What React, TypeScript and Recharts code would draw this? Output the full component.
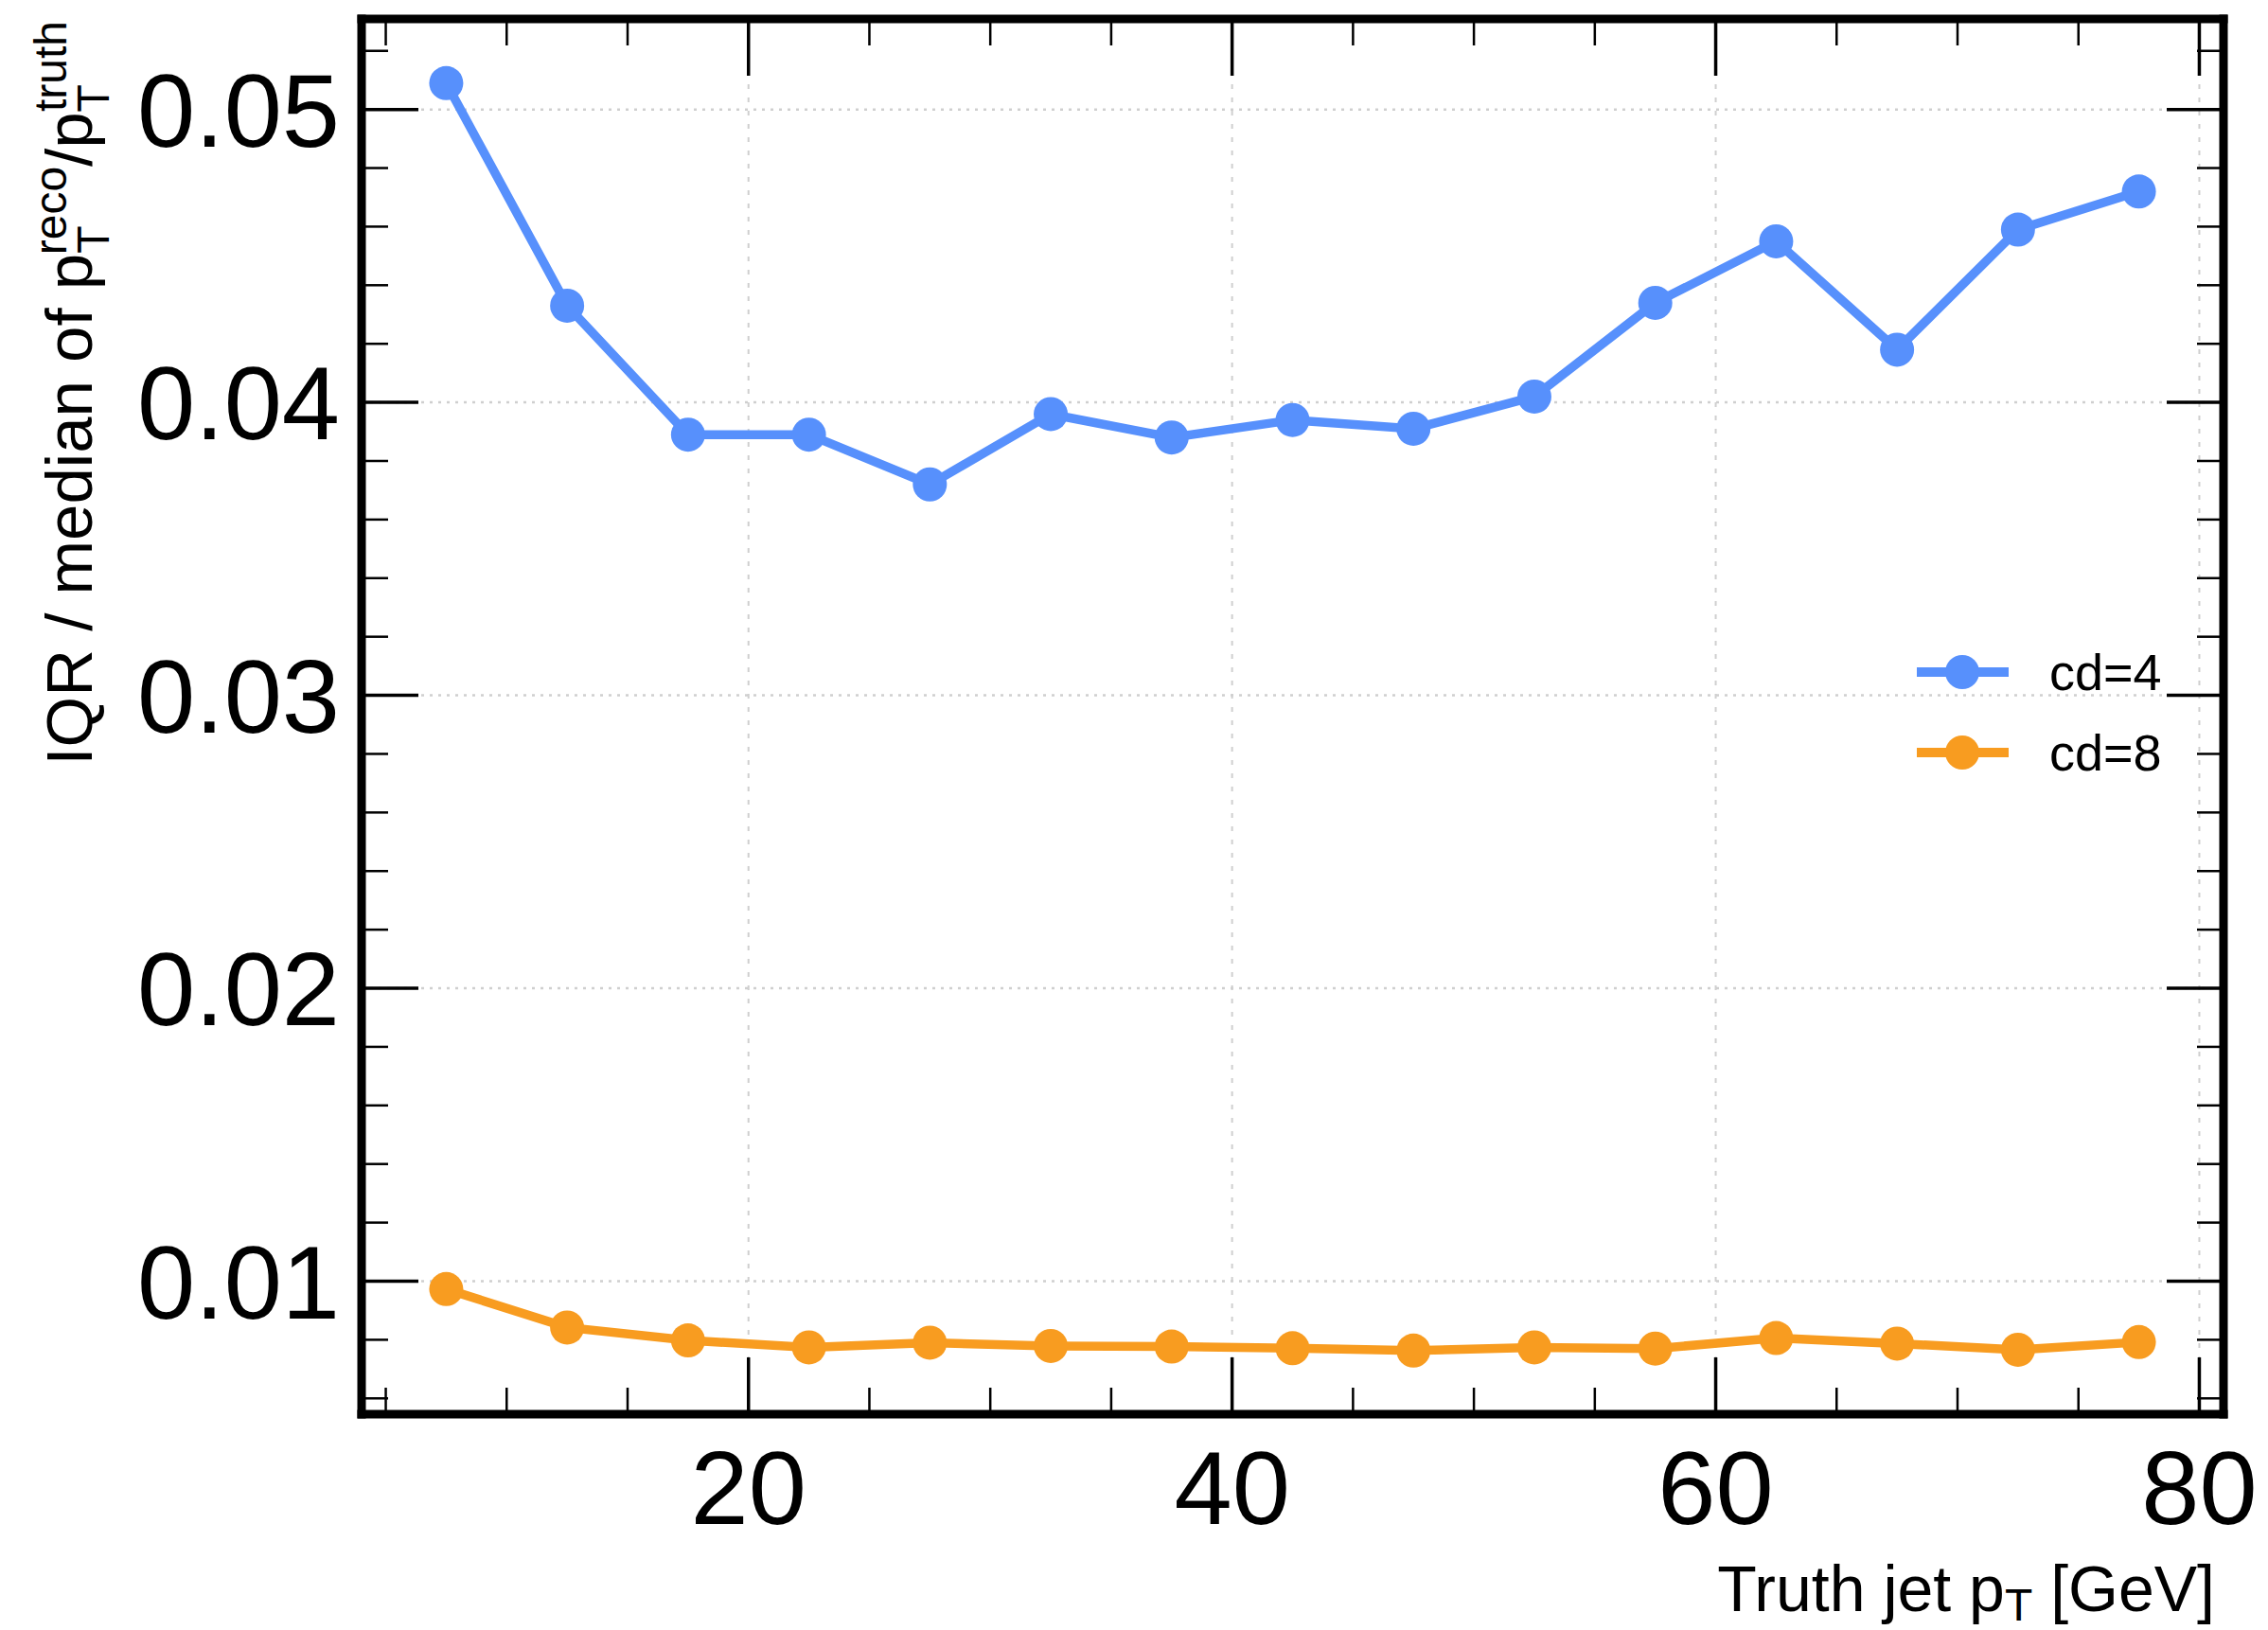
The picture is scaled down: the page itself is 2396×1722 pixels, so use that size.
import React from 'react';
import { LineChart, Line, XAxis, YAxis, ReferenceLine, Legend } from 'recharts';

// ---- data ----
const ptBins = [7.5, 12.5, 17.5, 22.5, 27.5, 32.5, 37.5, 42.5, 47.5, 52.5, 57.5, 62.5, 67.5, 72.5, 77.5];
const iqrCd4 = [0.0509, 0.0433, 0.0389, 0.0389, 0.0372, 0.0396, 0.0388, 0.0394, 0.0391, 0.0402, 0.0434, 0.0455, 0.0418, 0.0459, 0.0472];
const iqrCd8 = [0.00973, 0.00842, 0.00798, 0.00774, 0.0079, 0.00779, 0.00777, 0.00771, 0.00763, 0.00774, 0.0077, 0.00806, 0.00787, 0.00766, 0.00792];
const seriesNames = ['cd=4', 'cd=8'];
const seriesColors = ['#5790fc', '#f89c20'];

const xTicks = [5, 10, 15, 20, 25, 30, 35, 40, 45, 50, 55, 60, 65, 70, 75, 80];
const xMajorTicks = [20, 40, 60, 80];
const yTicks = [0.006, 0.008, 0.01, 0.012, 0.014, 0.016, 0.018, 0.02, 0.022, 0.024, 0.026, 0.028, 0.03, 0.032, 0.034, 0.036, 0.038, 0.04, 0.042, 0.044, 0.046, 0.048, 0.05, 0.052];
const yMajorTicks = [0.01, 0.02, 0.03, 0.04, 0.05];
const yMajorLabels = ['0.01', '0.02', '0.03', '0.04', '0.05'];
const xDomain = [4, 81];
const yDomain = [0.00546, 0.05309];

const data = ptBins.map((pt, i) => ({ pt, cd4: iqrCd4[i], cd8: iqrCd8[i] }));

// ---- layout / style ----
const W = 2396;
const H = 1722;
const PLOT_LEFT = 382;
const PLOT_RIGHT = 2349;
const PLOT_TOP = 20;
const PLOT_BOTTOM = 1494;
const FONT = '"Liberation Sans", Arial, Helvetica, sans-serif';
const MAJOR_LEN = 60;
const MINOR_LEN = 28;
const TICK_FONT = 110;

const isMajorX = (v: number) => xMajorTicks.some((m) => Math.abs(m - v) < 1e-9);
const majorYIndex = (v: number) => yMajorTicks.findIndex((m) => Math.abs(m - v) < 1e-9);

const BottomTick = (props: any) => {
  const { x, y, payload } = props;
  const major = isMajorX(payload.value);
  return (
    <g>
      <line x1={x} x2={x} y1={y} y2={y - (major ? MAJOR_LEN : MINOR_LEN)} stroke="#000" strokeWidth={major ? 3.5 : 2.5} />
      {major && (
        <text x={x} y={y + 116} textAnchor="middle" fontSize={TICK_FONT} fontFamily={FONT} fill="#000">
          {payload.value}
        </text>
      )}
    </g>
  );
};

const TopTick = (props: any) => {
  const { x, y, payload } = props;
  const major = isMajorX(payload.value);
  return <line x1={x} x2={x} y1={y} y2={y + (major ? MAJOR_LEN : MINOR_LEN)} stroke="#000" strokeWidth={major ? 3.5 : 2.5} />;
};

const LeftTick = (props: any) => {
  const { x, y, payload } = props;
  const idx = majorYIndex(payload.value);
  const major = idx >= 0;
  return (
    <g>
      <line x1={x} x2={x + (major ? MAJOR_LEN : MINOR_LEN)} y1={y} y2={y} stroke="#000" strokeWidth={major ? 3.5 : 2.5} />
      {major && (
        <text x={x - 23} y={y + 39} textAnchor="end" fontSize={TICK_FONT} fontFamily={FONT} fill="#000">
          {yMajorLabels[idx]}
        </text>
      )}
    </g>
  );
};

const RightTick = (props: any) => {
  const { x, y, payload } = props;
  const major = majorYIndex(payload.value) >= 0;
  return <line x1={x} x2={x - (major ? MAJOR_LEN : MINOR_LEN)} y1={y} y2={y} stroke="#000" strokeWidth={major ? 3.5 : 2.5} />;
};

const YTitle = () => (
  <text transform="translate(97,22) rotate(-90)" textAnchor="end" fontSize={69} fontFamily={FONT} fill="#000">
    IQR / median of p
    <tspan fontSize={48} dy={18}>T</tspan>
    <tspan fontSize={48} dx={-29} dy={-45}>reco</tspan>
    <tspan fontSize={69} dy={27}>/p</tspan>
    <tspan fontSize={48} dy={18}>T</tspan>
    <tspan fontSize={48} dx={-29} dy={-45}>truth</tspan>
  </text>
);

const XTitle = () => (
  <text x={2340} y={1702} textAnchor="end" fontSize={68} fontFamily={FONT} fill="#000">
    Truth jet p
    <tspan fontSize={48} dy={10}>T</tspan>
    <tspan fontSize={68} dy={-10}>{' [GeV]'}</tspan>
  </text>
);

const renderLegend = (props: any) => {
  const payload = props.payload || [];
  return (
    <svg width={340} height={180} style={{ display: 'block' }}>
      {payload.map((e: any, i: number) => {
        const cy = 40 + i * 85;
        return (
          <g key={i}>
            <line x1={15} x2={112} y1={cy} y2={cy} stroke={e.color} strokeWidth={10} />
            <circle cx={63} cy={cy} r={18} fill={e.color} />
            <text x={155} y={cy + 19} fontSize={54} fontFamily={FONT} fill="#000">
              {e.value}
            </text>
          </g>
        );
      })}
    </svg>
  );
};

const axisLineStyle = { stroke: '#000', strokeWidth: 9, strokeLinecap: 'square' as const };

export default function App() {
  return (
    <div style={{ position: 'absolute', left: 0, top: 0, width: W, height: H, background: '#fff' }}>
      <LineChart width={W} height={H} data={data} margin={{ top: 0, right: 0, bottom: 0, left: 0 }}>
        <XAxis
          xAxisId={0}
          dataKey="pt"
          type="number"
          domain={xDomain}
          allowDataOverflow
          ticks={xTicks}
          interval={0}
          height={H - PLOT_BOTTOM}
          tickSize={0}
          tickMargin={0}
          tickLine={false}
          axisLine={axisLineStyle}
          tick={<BottomTick />}
          label={<XTitle />}
        />
        <XAxis
          xAxisId="top"
          orientation="top"
          dataKey="pt"
          type="number"
          domain={xDomain}
          allowDataOverflow
          ticks={xTicks}
          interval={0}
          height={PLOT_TOP}
          tickSize={0}
          tickMargin={0}
          tickLine={false}
          axisLine={axisLineStyle}
          tick={<TopTick />}
        />
        <YAxis
          yAxisId={0}
          type="number"
          domain={yDomain}
          allowDataOverflow
          ticks={yTicks}
          interval={0}
          width={PLOT_LEFT}
          tickSize={0}
          tickMargin={0}
          tickLine={false}
          axisLine={axisLineStyle}
          tick={<LeftTick />}
          label={<YTitle />}
        />
        <YAxis
          yAxisId="right"
          orientation="right"
          type="number"
          domain={yDomain}
          allowDataOverflow
          ticks={yTicks}
          interval={0}
          width={W - PLOT_RIGHT}
          tickSize={0}
          tickMargin={0}
          tickLine={false}
          axisLine={axisLineStyle}
          tick={<RightTick />}
        />
        {xMajorTicks.map((v) => (
          <ReferenceLine key={'gx' + v} x={v} xAxisId={0} yAxisId={0} stroke="#cfcfcf" strokeWidth={2} strokeDasharray="5 9" />
        ))}
        {yMajorTicks.map((v) => (
          <ReferenceLine key={'gy' + v} y={v} xAxisId={0} yAxisId={0} stroke="#cfcfcf" strokeWidth={2.5} strokeDasharray="3 6" />
        ))}
        <Legend
          verticalAlign="middle"
          layout="horizontal"
          content={renderLegend}
          wrapperStyle={{ position: 'absolute', left: 2010, top: 670, width: 340, height: 180 }}
        />
        <Line
          xAxisId={0}
          yAxisId={0}
          type="linear"
          dataKey="cd4"
          name={seriesNames[0]}
          stroke={seriesColors[0]}
          strokeWidth={9.5}
          dot={{ r: 18, fill: seriesColors[0], stroke: 'none' }}
          activeDot={false}
          isAnimationActive={false}
        />
        <Line
          xAxisId={0}
          yAxisId={0}
          type="linear"
          dataKey="cd8"
          name={seriesNames[1]}
          stroke={seriesColors[1]}
          strokeWidth={9.5}
          dot={{ r: 18, fill: seriesColors[1], stroke: 'none' }}
          activeDot={false}
          isAnimationActive={false}
        />
      </LineChart>
    </div>
  );
}
